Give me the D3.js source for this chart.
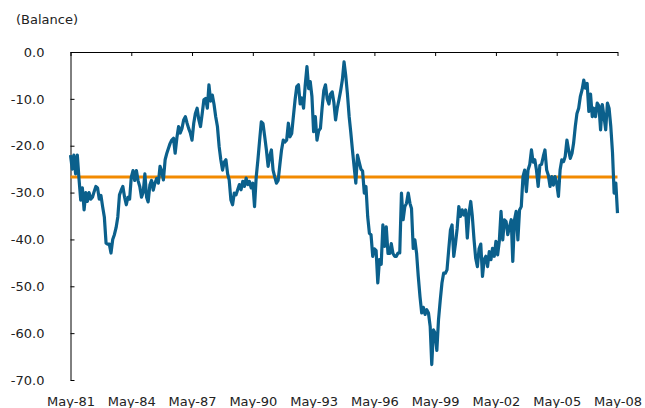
<!DOCTYPE html>
<html>
<head>
<meta charset="utf-8">
<script src="https://cdn.jsdelivr.net/npm/d3@7"></script>
<style>
  body { margin: 0; background: #fff; }
  svg text { font-family: "DejaVu Sans", sans-serif; fill: #222; }
</style>
</head>
<body>
<svg></svg>
<script>
// monthly balance, starting May-81 (one line per 12 months)
const balance = [
  -22, -25, -22, -26, -22, -27, -31.6, -29, -33.7, -30, -31.9, -30,
  -31.4, -31, -29.8, -28.7, -29, -31.4, -30.6, -33, -35.2, -40.8, -41, -41,
  -42.9, -40, -39, -37.5, -35.2, -30.5, -29.5, -28.7, -31, -32.6, -31, -31.4,
  -26.7, -25.3, -27.4, -25.3, -27.5, -28.7, -31, -30, -26, -31, -32, -28.4,
  -27.4, -29.5, -28, -27, -28, -24.4, -25.5, -27.3, -23, -21.6, -20.6, -19.5,
  -18.8, -18.4, -21.6, -18.3, -15.9, -17.3, -16.3, -14.5, -13.8, -15.2, -16.3, -17.3,
  -18.8, -15.2, -13.1, -12, -14.5, -15.9, -13.1, -10.2, -9.9, -12, -7, -10.5,
  -9.2, -11.2, -13.8, -15.9, -20.2, -23, -25.2, -23.5, -23, -26, -27.3, -31.6,
  -32.6, -30.1, -30.5, -29.4, -28.3, -29.4, -27.6, -28.7, -26.9, -28.3, -27.6, -29,
  -28, -33, -26.7, -23, -18.8, -14.9, -15.3, -18, -20.9, -24.4, -22.3, -20.9,
  -25.2, -26.7, -28, -27.4, -24, -20.9, -18.8, -19.2, -18.8, -15.2, -18.1, -17.4,
  -13.8, -10.2, -7.4, -7, -11.1, -9.8, -12, -7, -3.1, -7.8, -6.3, -9.5,
  -17, -13.8, -18.8, -16.8, -16.3, -12, -8.2, -7, -10, -11.1, -9, -8.5,
  -10.7, -14.5, -12, -10.2, -8.2, -6, -2.1, -5, -9, -13.8, -17, -20.9,
  -24.4, -28, -22, -23.5, -25, -25.4, -30.1, -28.7, -35.1, -38.7, -39, -43.6,
  -42, -42.4, -49.3, -44.3, -45.3, -36.9, -41.5, -37.3, -43, -43, -40.9, -43,
  -43.6, -43.6, -42.9, -42.9, -30.1, -35.8, -33, -32.3, -30.1, -32.3, -33.4, -41.9,
  -40.1, -43, -47.9, -52.2, -55.7, -54.5, -56, -55, -55.7, -58.6, -66.7, -59.3,
  -60, -63.7, -57.1, -53, -49.3, -47.2, -47.2, -46.5, -42.2, -38, -36.9, -43.6,
  -41, -37.7, -33, -35.1, -33.7, -34.8, -33.7, -39.7, -34.4, -31.9, -35, -40,
  -44, -45.8, -42, -41, -47.9, -44.3, -43.6, -45.8, -42.6, -44.3, -41.9, -43.6,
  -40.4, -43.3, -40.4, -34, -40.1, -35.8, -36.2, -39, -37.3, -35.8, -44.7, -35.8,
  -34, -40.1, -33.7, -33, -26.6, -25.2, -29.8, -25.2, -24, -20.9, -23.5, -23,
  -25.2, -28.7, -24.2, -24, -22.3, -20.9, -25.2, -26.3, -28.7, -26.6, -28.4, -26.6,
  -28, -30.8, -25.2, -23, -23.4, -22.3, -18.8, -20.9, -22.7, -21.6, -19.5, -15.9,
  -13.1, -12, -9.5, -8.1, -6, -7.7, -6.7, -12.7, -9, -13.8, -12, -13.8,
  -10.9, -11.5, -16.6, -11.2, -13.8, -16.6, -10.9, -12, -15.9, -21.5, -30.1, -28,
  -34.4
];
// long-run average
const averageBalance = -26.7;

const xTickLabels = ["May-81", "May-84", "May-87", "May-90", "May-93",
                     "May-96", "May-99", "May-02", "May-05", "May-08"];
const yTicks = [0, -10, -20, -30, -40, -50, -60, -70];

const width = 645, height = 408;
const startDate = new Date(1981, 4, 1);
const dates = balance.map((d, i) => d3.timeMonth.offset(startDate, i));
const tickDates = xTickLabels.map((d, i) => d3.timeYear.offset(startDate, i * 3));

const svg = d3.select("svg").attr("width", width).attr("height", height);

const x = d3.scaleTime()
  .domain([startDate, tickDates[tickDates.length - 1]])
  .range([70.5, 617.5]);
const y = d3.scaleLinear().domain([-70, 0]).range([380, 52]);

// y axis title
svg.append("text")
  .attr("x", 16).attr("y", 24)
  .style("font-size", "13px")
  .text("(Balance)");

// left axis, ticks inside
const yAxis = svg.append("g")
  .attr("transform", "translate(70.5,0)")
  .call(d3.axisLeft(y).tickValues(yTicks).tickSize(-4).tickSizeOuter(0)
    .tickPadding(26).tickFormat(d => d.toFixed(1)));
yAxis.selectAll("text").style("font-size", "13px");

// axis at zero, ticks pointing down
svg.append("g")
  .attr("transform", "translate(0,52)")
  .call(d3.axisBottom(x).tickValues(tickDates).tickSize(4).tickSizeOuter(0).tickFormat(""));

// date labels along the bottom
const xLabels = svg.append("g")
  .attr("transform", "translate(0,380)")
  .call(d3.axisBottom(x).tickValues(tickDates).tickSize(0).tickPadding(17)
    .tickFormat((d, i) => xTickLabels[i]));
xLabels.select(".domain").remove();
xLabels.selectAll("text").style("font-size", "13px");

svg.selectAll(".domain, .tick line").attr("stroke", "#000");

// average line
svg.append("path")
  .datum([dates[0], dates[dates.length - 1]])
  .attr("fill", "none")
  .attr("stroke", "#f28a00")
  .attr("stroke-width", 3)
  .attr("d", d3.line().x(d => x(d)).y(() => y(averageBalance)));

// balance series
svg.append("path")
  .datum(balance)
  .attr("fill", "none")
  .attr("stroke", "#0b608c")
  .attr("stroke-width", 3.2)
  .attr("stroke-linejoin", "round")
  .attr("d", d3.line().x((d, i) => x(dates[i])).y(d => y(d)));
</script>
</body>
</html>
